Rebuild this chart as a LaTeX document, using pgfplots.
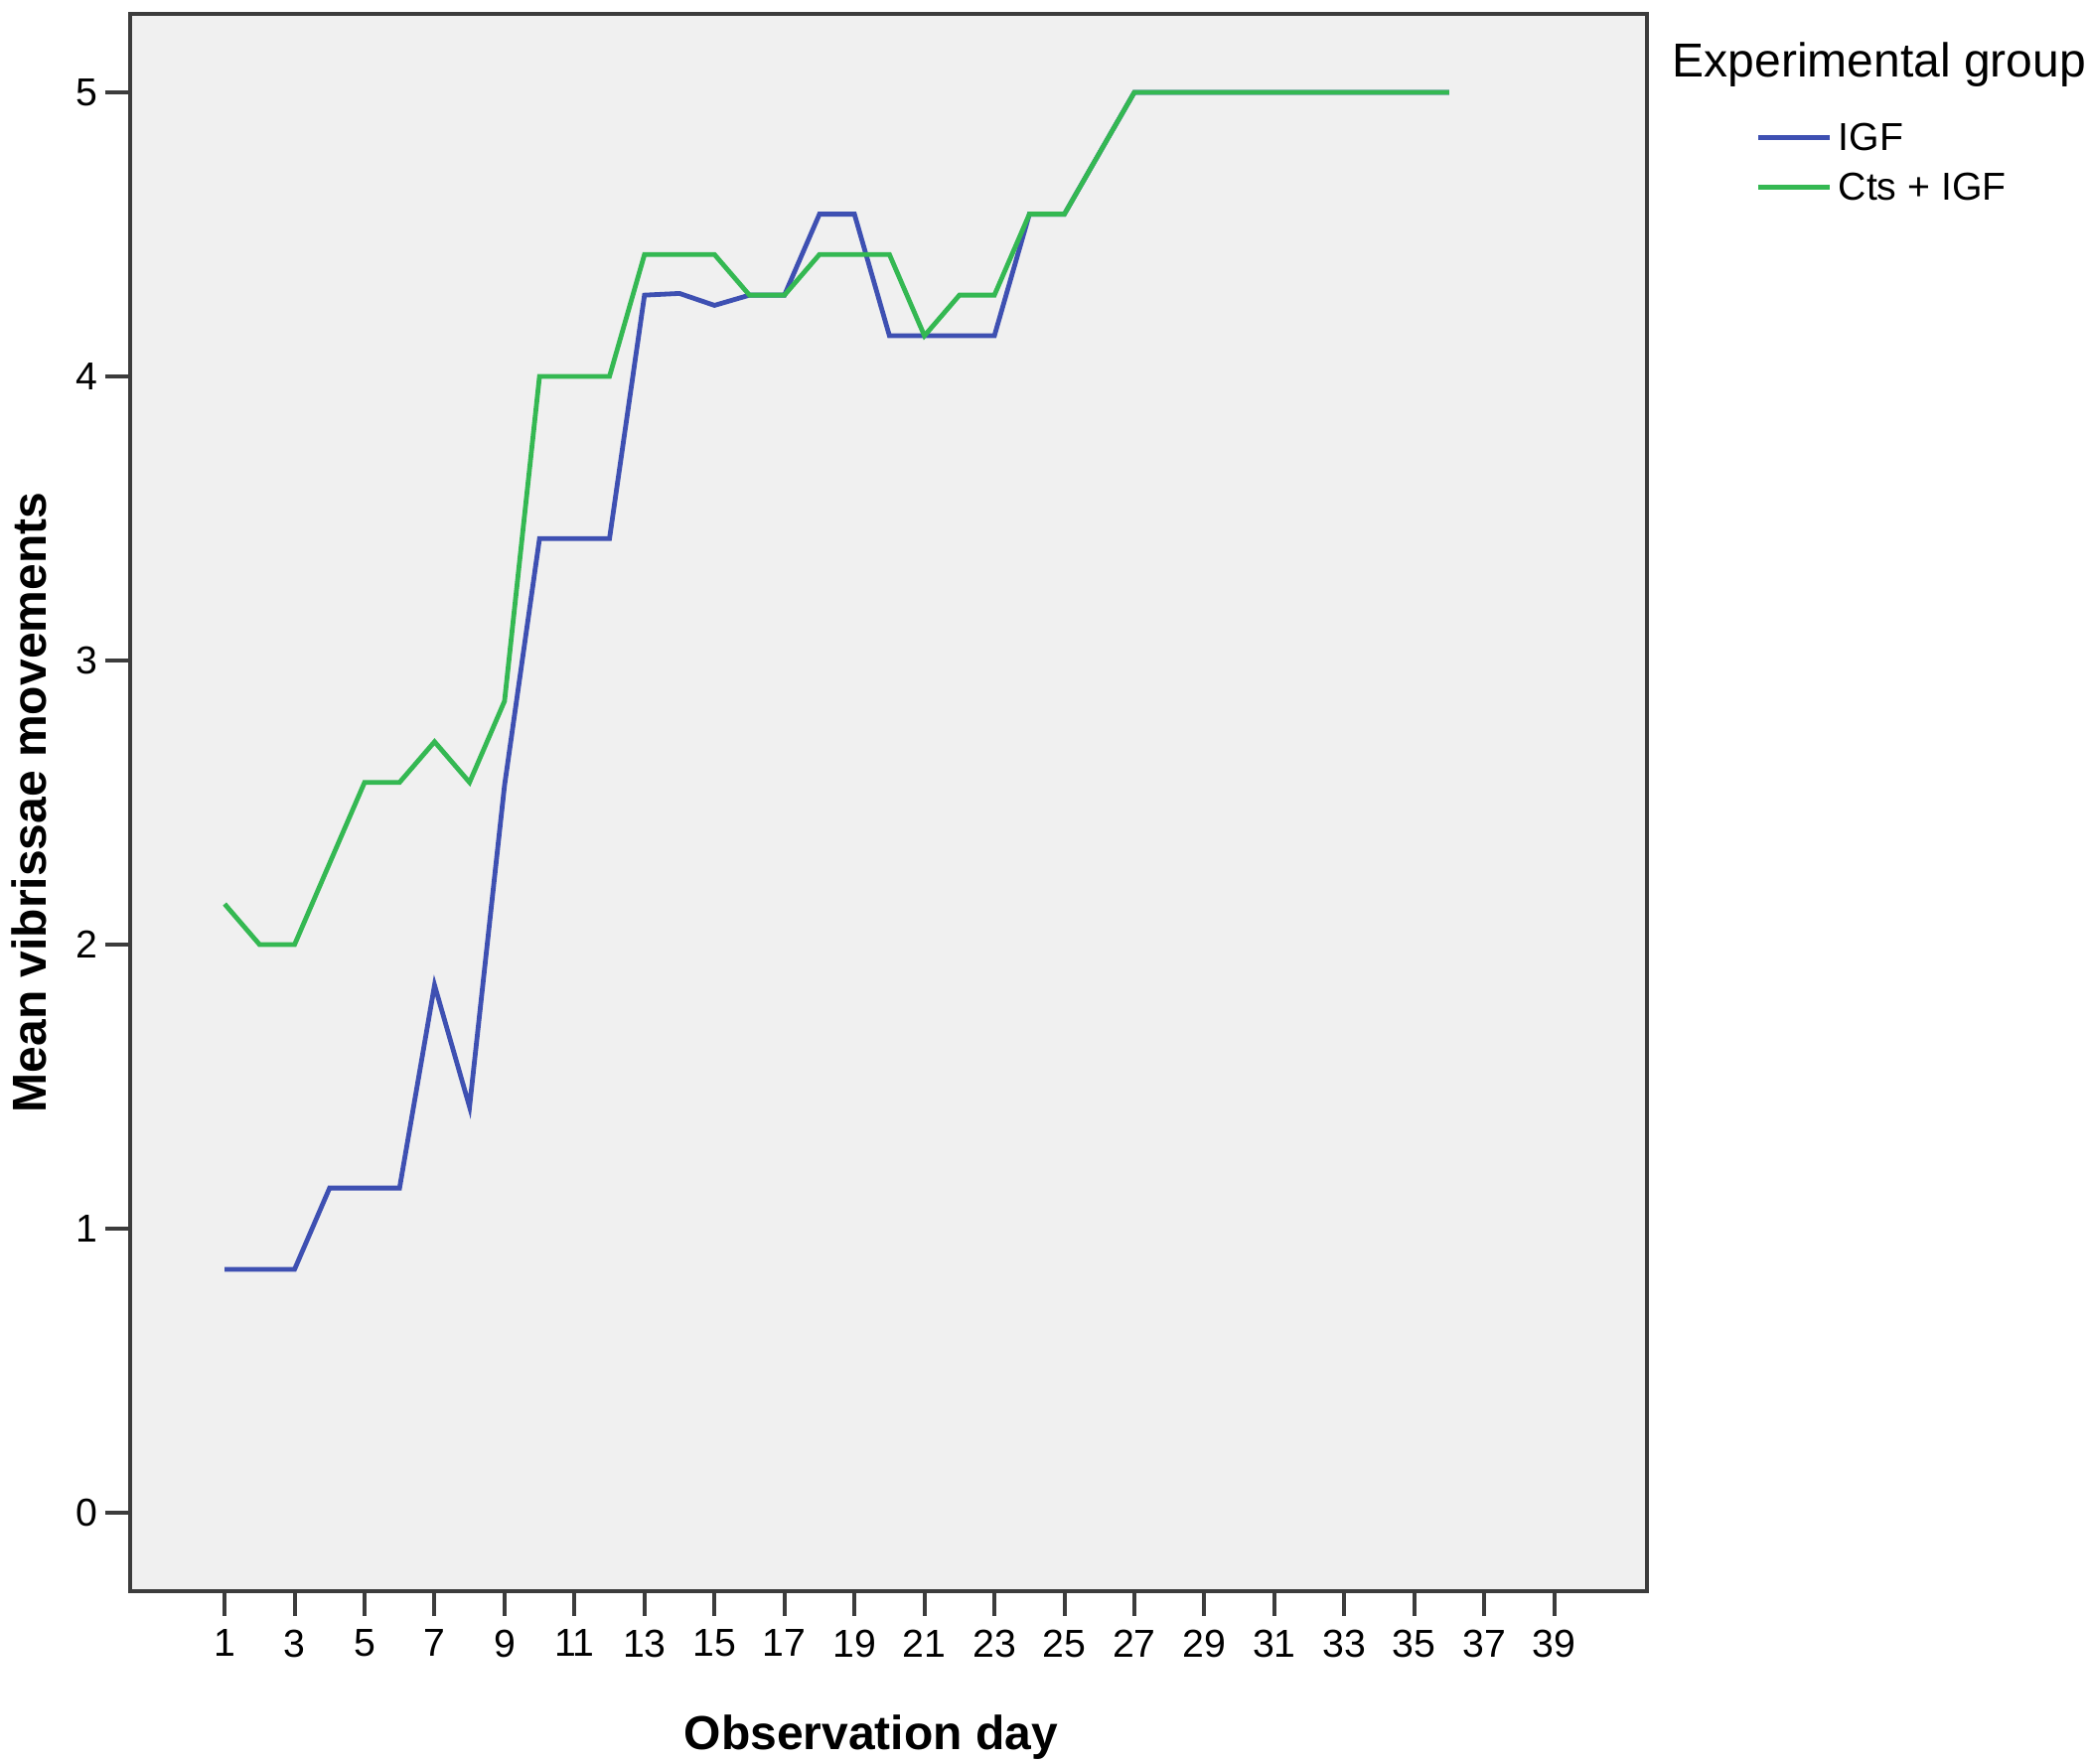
\documentclass[border=0pt]{standalone}
\usepackage{fontspec}
\setmainfont{Liberation Sans}
\usepackage{pgfplots}
\usepackage{pgfplotstable}
\pgfplotsset{compat=1.18}
\definecolor{igfblue}{RGB}{62,80,178}
\definecolor{ctsgreen}{RGB}{52,184,82}
\definecolor{bgray}{RGB}{240,240,240}
\definecolor{framegray}{RGB}{60,60,60}

\pgfplotstableread{
day igf cts
1  0.857 2.143
2  0.857 2.000
3  0.857 2.000
4  1.143 2.286
5  1.143 2.571
6  1.143 2.571
7  1.857 2.714
8  1.429 2.571
9  2.560 2.857
10 3.429 4.000
11 3.429 4.000
12 3.429 4.000
13 4.286 4.429
14 4.292 4.429
15 4.250 4.429
16 4.286 4.286
17 4.286 4.286
18 4.571 4.429
19 4.571 4.429
20 4.143 4.429
21 4.143 4.143
22 4.143 4.286
23 4.143 4.286
24 4.571 4.571
25 4.571 4.571
26 4.786 4.786
27 5.000 5.000
28 5.000 5.000
29 5.000 5.000
30 5.000 5.000
31 5.000 5.000
32 5.000 5.000
33 5.000 5.000
34 5.000 5.000
35 5.000 5.000
36 5.000 5.000
}\datatable

\begin{document}
\begin{tikzpicture}
\begin{axis}[
  name=ax,
  at={(0,0)}, anchor=south west,
  scale only axis, width=381.75pt, height=397pt,
  xmin=-1.7, xmax=41.65, ymin=-0.276, ymax=5.276,
  axis background/.style={fill=bgray},
  axis line style={framegray, line width=1pt},
  xtick={1,3,...,39}, ytick={0,1,2,3,4,5},
  xtick pos=bottom, ytick pos=left,
  tick align=outside, major tick length=6.25pt,
  tick style={framegray, line width=1pt},
  /pgf/number format/assume math mode=true,
  tick label style={font=\fontsize{9.8}{11}\selectfont},
  yticklabel style={anchor=east, inner sep=0pt, xshift=-1.6pt},
  xticklabel style={anchor=north, inner sep=0pt, yshift=-3.3pt},
  xlabel={Observation day}, ylabel={Mean vibrissae movements},
  label style={font=\bfseries\fontsize{12}{14}\selectfont},
  xlabel style={at={(axis description cs:0.4885,-0.0925)}, anchor=center},
  ylabel style={at={(axis description cs:-0.0665,0.5)}, anchor=center},
  legend style={at={(axis description cs:1.072,1)}, anchor=north west,
    yshift=-27.5pt, draw=none, fill=none, inner sep=0pt, outer sep=0pt,
    font=\fontsize{9.8}{11}\selectfont, row sep=3.4pt,
    nodes={inner sep=0pt, text height=7pt, text depth=2pt}},
  legend cell align=left,
  legend image code/.code={\draw[#1] (0pt,0.8pt) -- (18pt,0.8pt); \path (19.5pt,0.8pt);},
]
\addplot[igfblue, line width=1.2pt] table[x=day, y=igf] {\datatable};
\addlegendentry{IGF}
\addplot[ctsgreen, line width=1.2pt] table[x=day, y=cts] {\datatable};
\addlegendentry{Cts + IGF}
\end{axis}
\node[anchor=base west, inner sep=0pt, font=\fontsize{12}{14}\selectfont, xshift=6.25pt, yshift=-16pt] at (ax.north east) {Experimental group};
\pgfresetboundingbox
\useasboundingbox (-32.75pt,-43.25pt) rectangle (493.5pt,400.5pt);
\end{tikzpicture}
\end{document}
